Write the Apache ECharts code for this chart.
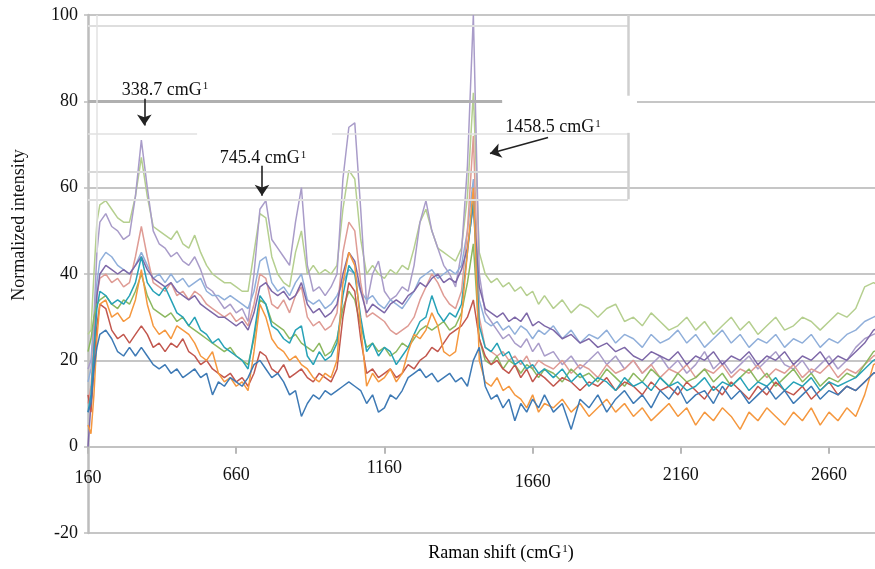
<!DOCTYPE html>
<html>
<head>
<meta charset="utf-8">
<script src="https://cdn.jsdelivr.net/npm/echarts/dist/echarts.min.js"></script>
<style>
html,body{margin:0;padding:0;background:#fff;}
#chart{width:875px;height:569px;}
</style>
</head>
<body>
<div id="chart"></div>
<script>
// Raman shift sample positions (cm-1)
const ramanShift = [160,170,180,190,200,220,240,260,280,300,320,340,360,380,400,420,440,460,480,500,520,540,560,580,600,620,640,660,680,700,720,740,760,780,800,820,840,860,880,900,920,940,960,980,1000,1020,1040,1060,1080,1100,1120,1140,1160,1180,1200,1220,1240,1260,1280,1300,1320,1340,1360,1380,1400,1420,1440,1460,1480,1500,1520,1540,1560,1580,1600,1620,1640,1660,1680,1700,1730,1760,1790,1820,1850,1880,1910,1940,1970,2000,2030,2060,2090,2120,2150,2180,2210,2240,2270,2300,2330,2360,2390,2420,2450,2480,2510,2540,2570,2600,2630,2660,2690,2720,2750,2780,2810,2840];

// Normalized intensity of each spectrum
const lavender = [18,20,30,45,52,54,51,50,48,49, 58,71,60,50,47,46,44,45,43,42, 44,41,37,36,34,32,33,31,32,29, 40,55,57,48,46,44,42,52,60,42, 36,37,35,37,40,62,74,75,55,33, 40,43,36,34,35,37,36,42,52,57, 50,46,42,40,37,45,65,100,40,31, 29,27,25,26,24,23,25,22,24,21, 22,19,21,18,20,22,19,21,18,20, 17,19,21,18,20,17,19,22,18,20, 17,19,21,18,20,22,19,18,20,17, 19,21,18,20,23,25,26,27];
const lightGreen = [26,27,40,52,56,57,55,53,52,52, 58,67,58,51,50,49,48,50,47,46, 49,45,42,40,39,38,38,37,36,36, 45,54,53,44,40,38,37,45,50,40, 42,40,41,40,42,55,64,62,48,40, 42,40,39,41,40,42,41,46,52,55, 50,46,45,44,43,46,58,82,45,40, 38,39,37,38,36,37,35,36,33,35, 32,34,31,33,32,30,32,33,29,30, 28,31,29,27,28,30,27,29,26,28, 30,27,29,26,28,30,27,28,30,29, 27,29,31,30,32,37,38,37];
const purple = [0,10,22,35,40,42,41,40,41,40, 42,44,41,39,38,37,38,36,35,34, 35,33,32,31,30,30,29,28,29,27, 31,37,38,36,35,36,34,35,38,33, 31,32,30,31,33,40,45,43,36,31, 33,32,31,33,34,33,35,36,38,37, 39,40,38,39,38,41,46,56,37,32, 31,30,31,29,30,29,31,28,29,28, 27,25,26,24,25,23,24,22,23,21, 20,22,21,20,22,19,21,20,22,19, 21,20,22,19,21,20,22,19,21,20, 22,19,21,20,22,24,27,28];
const lightBlue = [15,18,28,38,43,45,44,42,41,40, 42,45,42,39,40,38,40,38,39,37, 38,39,36,35,35,34,35,34,33,32, 36,43,44,38,36,37,35,38,40,34, 33,34,32,33,35,38,41,40,36,34, 35,33,32,34,33,32,34,36,39,40, 41,39,40,41,40,42,50,62,34,29, 28,29,27,28,26,28,27,25,27,26, 28,25,27,24,26,25,27,24,26,25, 23,26,24,25,27,24,26,23,25,27, 24,26,23,25,24,26,23,25,24,26, 23,25,24,26,27,29,30,31];
const salmon = [10,14,25,35,39,40,38,39,37,38, 44,51,44,38,37,36,38,35,36,34, 36,35,33,32,31,30,31,29,30,28, 33,40,39,33,32,34,31,35,37,30, 28,29,27,28,31,45,52,50,38,30, 31,30,29,27,26,27,28,30,34,37, 40,38,35,33,32,36,50,72,30,23, 22,21,22,20,21,19,21,18,20,19, 18,20,17,19,18,16,19,17,18,20, 17,19,16,18,17,19,16,18,17,19, 16,18,17,19,16,18,17,19,16,18, 17,19,16,18,17,19,21,22];
const teal = [8,12,22,32,36,35,33,34,33,35, 38,44,38,36,35,37,34,31,30,28, 30,27,26,24,25,23,22,21,20,18, 26,35,33,28,27,25,24,27,28,21, 19,22,20,21,24,35,42,40,30,22, 24,21,23,22,19,21,23,26,29,30, 35,31,29,31,30,33,45,57,28,23, 22,24,21,22,19,20,18,19,17,18, 16,18,15,17,14,16,15,13,16,14, 15,13,16,14,15,13,14,16,13,15, 14,16,13,15,14,16,13,15,14,16, 13,15,14,15,16,18,20,21];
const orange = [5,3,12,25,33,34,30,31,29,30, 34,41,33,28,26,27,25,28,27,26, 24,21,20,22,17,15,16,14,15,13, 22,33,30,25,23,22,20,21,19,18, 16,15,17,16,20,38,45,42,28,14, 17,15,16,18,15,17,22,26,25,27, 31,28,22,21,22,30,45,60,20,15, 14,16,13,14,12,11,9,12,8,10, 9,11,8,10,7,9,11,8,10,7, 9,6,8,10,7,9,5,8,6,9, 7,4,8,6,9,7,5,8,6,9, 5,8,6,9,7,12,19,20];
const redBrown = [12,8,18,28,33,32,27,25,26,24, 26,28,26,23,24,22,24,23,25,22, 21,19,20,18,17,16,17,15,16,14, 17,22,21,18,17,19,16,17,18,16, 15,17,16,15,18,30,38,36,25,17, 18,16,17,18,16,17,19,18,20,21, 23,22,24,26,27,28,30,34,25,21, 19,20,18,17,19,16,18,15,17,16, 14,16,15,13,15,14,16,13,15,14, 12,15,13,14,12,15,13,11,14,12, 15,13,11,14,12,15,13,12,14,11, 13,15,12,14,13,15,17,18];
const blue = [8,10,18,23,26,27,25,22,21,23, 21,23,21,19,18,19,17,18,16,17, 18,16,17,12,15,14,16,15,14,16, 19,20,18,16,17,15,12,13,7,10, 12,11,13,12,13,14,15,14,13,10, 12,8,9,12,11,13,16,17,18,16, 17,15,16,17,15,16,14,20,23,14, 11,12,9,11,6,10,8,11,9,12, 8,10,4,11,9,12,8,11,13,10, 12,9,13,11,14,10,12,13,10,14, 11,13,10,12,14,11,13,10,12,14, 11,13,12,14,13,15,17,18];
const green = [22,25,30,33,34,35,33,32,34,33, 36,40,35,32,31,30,31,29,30,28, 27,26,25,24,23,22,23,21,20,19, 25,34,33,29,28,27,25,26,24,23, 22,24,21,22,25,32,36,34,28,23, 24,22,23,21,22,24,23,25,27,28, 27,28,29,27,28,31,38,47,25,20, 19,21,18,20,19,17,19,18,16,18, 17,15,18,16,17,15,18,16,14,17, 15,18,16,14,17,15,16,18,15,17, 14,16,18,15,17,14,16,18,15,17, 14,16,15,17,16,19,22,23];

// Axis ticks
const xTicks = [160,660,1160,1660,2160,2660];
const yTicks = [-20,0,20,40,60,80,100];

// Peak annotations: label text, label anchor, arrow start, arrow end
const peakLabels = [
  {text: '338.7 cmG', at: [420, 82.5], from: [350, 80.6], to: [350, 74.4]},
  {text: '745.4 cmG', at: [750, 66.7], from: [747, 65.1], to: [747, 58.1]},
  {text: '1458.5 cmG', at: [1729, 73.9], from: [1712, 71.6], to: [1516, 67.9]}
];

const spectra = [
  {name: 'S1', color: '#b5cf8f', values: lightGreen},
  {name: 'S2', color: '#a99cc9', values: lavender},
  {name: 'S3', color: '#90afda', values: lightBlue},
  {name: 'S4', color: '#df9c95', values: salmon},
  {name: 'S5', color: '#7e68a8', values: purple},
  {name: 'S6', color: '#8cb860', values: green},
  {name: 'S7', color: '#c2574e', values: redBrown},
  {name: 'S8', color: '#27a2b7', values: teal},
  {name: 'S9', color: '#f5983f', values: orange},
  {name: 'S10', color: '#3e7ab5', values: blue}
];

const serif = '"Liberation Serif", "Times New Roman", serif';
const supRich = {
  t: {fontFamily: serif, fontSize: 18, color: '#111'},
  s: {fontFamily: serif, fontSize: 11, color: '#111', padding: [0, 0, 8, 1]}
};

const labelPad = {160: 11, 660: 8, 1160: 1, 1660: 15, 2160: 8, 2660: 8};

const GRID_TOP = 15, GRID_BOTTOM = 36, CHART_H = 569;
// distance (px) from the bottom of the plot (-20) up to the zero line
const zeroOffset = (CHART_H - GRID_TOP - GRID_BOTTOM) * (0 - yTicks[0]) / (yTicks[yTicks.length - 1] - yTicks[0]);

const series = spectra.map(function (s) {
  return {
    name: s.name,
    type: 'line',
    showSymbol: false,
    symbol: 'none',
    silent: true,
    clip: true,
    lineStyle: {color: s.color, width: 1.5},
    itemStyle: {color: s.color},
    data: ramanShift.map(function (x, i) { return [x, s.values[i]]; })
  };
});

// peak arrows + labels attached to the tallest spectrum
series[1].markLine = {
  silent: true,
  symbol: ['none', 'arrow'],
  symbolSize: 11,
  label: {show: false},
  lineStyle: {color: '#222', width: 1.6, type: 'solid'},
  data: peakLabels.map(function (p) { return [{coord: p.from}, {coord: p.to}]; })
};
series[1].markPoint = {
  silent: true,
  symbol: 'rect',
  symbolSize: 1,
  itemStyle: {color: 'rgba(0,0,0,0)'},
  data: peakLabels.map(function (p) {
    return {
      coord: p.at,
      label: {show: true, position: 'inside', formatter: '{t|' + p.text + '}{s|1}', rich: supRich}
    };
  })
};
series[1].markArea = {
  silent: true,
  itemStyle: {color: '#ffffff'},
  data: [[{coord: [1557, 81.3]}, {coord: [2012, 72.7]}]]
};

// faint frame lines visible in the scanned figure
function seg(x1, y1, x2, y2, color, width) {
  return [{coord: [x1, y1], lineStyle: {color: color, width: width}}, {coord: [x2, y2]}];
}
series[0].markLine = {
  silent: true,
  symbol: 'none',
  label: {show: false},
  lineStyle: {type: 'solid'},
  data: [
    seg(160, 97.5, 1982, 97.5, '#dedede', 2),
    seg(160, 80, 1557, 80, '#b0b0b0', 3),
    seg(160, 72.4, 528, 72.4, '#e0e0e0', 1.5),
    seg(983, 72.4, 1982, 72.4, '#e0e0e0', 1.5),
    seg(160, 63.6, 1982, 63.6, '#d8d8d8', 2),
    seg(160, 57.3, 1982, 57.3, '#dedede', 2),
    seg(1982, 100, 1982, 81.3, '#cfcfcf', 2.5),
    seg(1982, 72.7, 1982, 57.3, '#cfcfcf', 2.5),
    seg(190, 100, 190, 45, '#e2e2e2', 1.5)
  ]
};

const option = {
  animation: false,
  backgroundColor: '#ffffff',
  grid: {left: 88, right: 0, top: GRID_TOP, bottom: GRID_BOTTOM, containLabel: false, outerBoundsMode: 'none'},
  xAxis: {
    type: 'value',
    min: 160,
    max: 2815,
    interval: 500,
    position: 'bottom',
    offset: -zeroOffset,
    axisLine: {onZero: false, lineStyle: {color: '#c2c2c2', width: 2}},
    axisTick: {show: true, length: 7, lineStyle: {color: '#b8b8b8', width: 2}},
    splitLine: {show: false},
    axisLabel: {
      margin: 12,
      showMaxLabel: false,
      color: '#111',
      fontFamily: serif,
      fontSize: 18,
      formatter: function (v) {
        if (xTicks.indexOf(v) < 0) return '';
        return '{p' + v + '|' + v + '}';
      },
      rich: (function () {
        const r = {};
        xTicks.forEach(function (t) {
          r['p' + t] = {fontFamily: serif, fontSize: 18, color: '#111', padding: [labelPad[t], 0, 0, 0]};
        });
        return r;
      })()
    }
  },
  yAxis: {
    type: 'value',
    min: yTicks[0],
    max: yTicks[yTicks.length - 1],
    interval: 20,
    axisLine: {show: true, lineStyle: {color: '#bdbdbd', width: 2.5}},
    axisTick: {show: true, length: 4, lineStyle: {color: '#bdbdbd', width: 1.5}},
    splitLine: {show: true, lineStyle: {color: '#c6c6c6', width: 2}},
    axisLabel: {margin: 10, color: '#111', fontFamily: serif, fontSize: 18}
  },
  graphic: [
    {
      type: 'text',
      x: 19, y: 225,
      rotation: Math.PI / 2,
      style: {text: 'Normalized intensity', font: '18px ' + serif, fill: '#111', align: 'center', verticalAlign: 'middle'}
    },
    {
      type: 'text',
      x: 501, y: 553,
      style: {
        text: '{t|Raman shift (cmG}{s|1}{t|)}',
        rich: supRich,
        align: 'center',
        verticalAlign: 'middle'
      }
    }
  ],
  series: series
};

const chart = echarts.init(document.getElementById('chart'), null, {renderer: 'canvas'});
chart.setOption(option);
</script>
</body>
</html>
